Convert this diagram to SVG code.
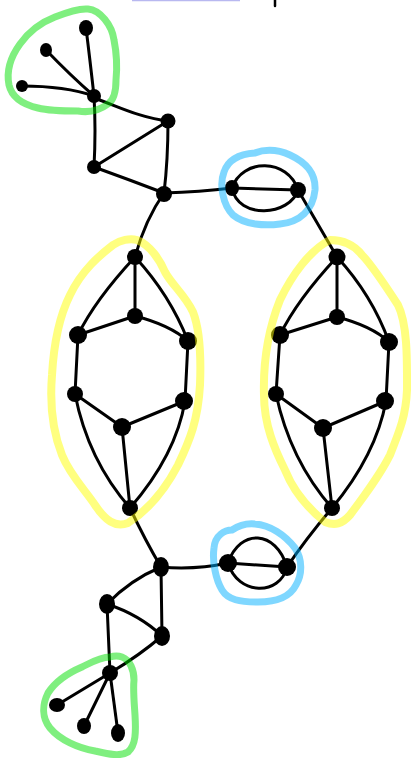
<svg xmlns="http://www.w3.org/2000/svg" width="411" height="758" viewBox="0 0 411 758">
<style>
.e{fill:none;stroke:#000;stroke-width:3;stroke-linecap:round;stroke-linejoin:round}
.n{fill:#000}
.o{fill:none;stroke-linecap:round;stroke-linejoin:round;opacity:0.5}
.g{stroke:#00e000;stroke-width:7}
.y{stroke:#ffff00;stroke-width:8}
.b{stroke:#00b0ff;stroke-width:7}
</style>
<rect width="411" height="758" fill="#fff"/>
<line x1="132" y1="0.5" x2="240" y2="0.5" stroke="#b8b8f0" stroke-width="1.5"/>
<line x1="275" y1="0" x2="275" y2="6" stroke="#000" stroke-width="2.5" stroke-linecap="round"/>
<g id="connectors">
<path class="e" d="M94,96 Q90,60 86,28"/>
<path class="e" d="M94,96 Q70,75 46,50"/>
<path class="e" d="M94,96 Q65,86 22,86"/>
<path class="e" d="M94,98 C115,105 140,118 168,121"/>
<path class="e" d="M94,96 Q96,130 94,167"/>
<path class="e" d="M94,167 L168,121"/>
<path class="e" d="M168,121 Q168,160 164,193"/>
<path class="e" d="M94,167 Q130,180 164,193"/>
<path class="e" d="M164,193 Q200,192 232,188"/>
<path class="e" d="M232,188 L298,190"/>
<path class="e" d="M232,188 C242,158 288,158 298,190"/>
<path class="e" d="M232,188 C238,220 290,216 298,190"/>
<path class="e" d="M298,190 L337,257"/>
<path class="e" d="M164,193 Q145,220 135,257"/>
<path class="e" d="M135,257 L135,316"/>
<path class="e" d="M135,257 Q95,300 78,335"/>
<path class="e" d="M135,257 Q170,295 188,341"/>
<path class="e" d="M135,316 L78,335"/>
<path class="e" d="M135,316 Q170,325 188,341"/>
<path class="e" d="M78,335 L75,394"/>
<path class="e" d="M188,341 L185,401"/>
<path class="e" d="M75,394 L122,427"/>
<path class="e" d="M185,401 L122,427"/>
<path class="e" d="M122,427 L130,508"/>
<path class="e" d="M75,394 Q88,460 130,508"/>
<path class="e" d="M185,401 Q176,455 130,508"/>
<path class="e" d="M130,508 Q145,540 161,567"/>
<path class="e" d="M337,257 L337,317"/>
<path class="e" d="M337,257 Q297,300 280,335"/>
<path class="e" d="M337,257 Q372,295 389,342"/>
<path class="e" d="M337,317 L280,335"/>
<path class="e" d="M337,317 Q372,326 389,342"/>
<path class="e" d="M280,335 L276,394"/>
<path class="e" d="M389,342 L386,401"/>
<path class="e" d="M276,394 L323,428"/>
<path class="e" d="M386,401 L323,428"/>
<path class="e" d="M323,428 L332,508"/>
<path class="e" d="M276,394 Q290,460 332,508"/>
<path class="e" d="M386,401 Q376,455 332,508"/>
<path class="e" d="M332,508 Q305,540 287,567"/>
<path class="e" d="M161,567 Q195,570 228,563"/>
<path class="e" d="M228,563 L287,567"/>
<path class="e" d="M228,563 C240,528 276,530 287,567"/>
<path class="e" d="M228,563 C238,596 280,596 287,567"/>
<path class="e" d="M161,567 Q130,580 107,604"/>
<path class="e" d="M161,567 L162,636"/>
<path class="e" d="M107,604 Q140,615 162,636"/>
<path class="e" d="M107,604 L110,673"/>
<path class="e" d="M162,636 Q140,655 110,673"/>
<path class="e" d="M110,673 L57,705"/>
<path class="e" d="M110,673 L84,726"/>
<path class="e" d="M110,673 L118,733"/>
</g>
<g id="nodes">
<g id="n-a"><ellipse class="n" cx="86" cy="28" rx="7" ry="8"/></g>
<g id="n-b"><ellipse class="n" cx="46" cy="50" rx="6" ry="7"/></g>
<g id="n-c"><circle class="n" cx="22" cy="86" r="6"/></g>
<g id="n-h1"><circle class="n" cx="94" cy="96" r="7"/></g>
<g id="n-t1"><circle class="n" cx="168" cy="121" r="7.5"/></g>
<g id="n-t2"><circle class="n" cx="94" cy="167" r="7"/></g>
<g id="n-j1"><circle class="n" cx="164" cy="194" r="8"/></g>
<g id="n-bl1"><ellipse class="n" cx="232" cy="188" rx="7" ry="8"/></g>
<g id="n-br1"><circle class="n" cx="298" cy="190" r="8"/></g>
<g id="n-l1"><circle class="n" cx="135" cy="257" r="8"/></g>
<g id="n-l2"><circle class="n" cx="135" cy="316" r="8"/></g>
<g id="n-l3"><circle class="n" cx="78" cy="335" r="9"/></g>
<g id="n-l4"><circle class="n" cx="188" cy="341" r="9"/></g>
<g id="n-l5"><circle class="n" cx="75" cy="394" r="8"/></g>
<g id="n-l6"><circle class="n" cx="184" cy="401" r="9"/></g>
<g id="n-l7"><circle class="n" cx="122" cy="427" r="9"/></g>
<g id="n-l8"><circle class="n" cx="130" cy="508" r="8"/></g>
<g id="n-r1"><circle class="n" cx="337" cy="257" r="8.5"/></g>
<g id="n-r2"><circle class="n" cx="337" cy="317" r="8"/></g>
<g id="n-r3"><circle class="n" cx="280" cy="335" r="9"/></g>
<g id="n-r4"><circle class="n" cx="389" cy="342" r="9"/></g>
<g id="n-r5"><circle class="n" cx="276" cy="394" r="8"/></g>
<g id="n-r6"><circle class="n" cx="385" cy="401" r="9"/></g>
<g id="n-r7"><circle class="n" cx="323" cy="428" r="9"/></g>
<g id="n-r8"><circle class="n" cx="332" cy="508" r="8"/></g>
<g id="n-bl2"><circle class="n" cx="228" cy="563" r="9"/></g>
<g id="n-br2"><circle class="n" cx="287" cy="567" r="9"/></g>
<g id="n-j2"><ellipse class="n" cx="161" cy="567" rx="8" ry="10"/></g>
<g id="n-b1"><ellipse class="n" cx="107" cy="604" rx="8" ry="10"/></g>
<g id="n-b2"><ellipse class="n" cx="162" cy="636" rx="8" ry="10"/></g>
<g id="n-h2"><circle class="n" cx="110" cy="673" r="8"/></g>
<g id="n-d"><ellipse class="n" cx="57" cy="705" rx="8" ry="7"/></g>
<g id="n-e"><ellipse class="n" cx="84" cy="726" rx="7" ry="8"/></g>
<g id="n-f"><ellipse class="n" cx="118" cy="733" rx="7" ry="9"/></g>
</g>
<g id="outlines">
<path class="o g" d="M88,9 C100,10 112,25 114,40 C117,55 117,70 116,80 C116,92 114,100 108,104 C100,110 90,113 78,111 C65,111 50,111 38,108 C25,105 12,98 9,85 C6,70 12,55 20,44 C30,30 42,22 55,17 C65,13 78,8 88,9 Z"/>
<path class="o b" d="M224,172 C228,160 240,154 255,153 C262,150 275,148 290,155 C305,162 316,172 315,190 C313,210 300,222 280,224 C265,226 245,225 233,215 C223,205 219,185 224,172 Z"/>
<path class="o y" d="M137,240 C150,245 160,260 165,272 C172,285 185,295 193,312 C200,330 201,360 200,385 C198,420 190,440 178,465 C165,490 148,510 128,523 C115,528 105,520 95,505 C85,490 70,475 62,455 C52,430 50,400 52,375 C54,340 60,315 70,295 C82,270 100,255 113,245 C120,240 130,238 137,240 Z"/>
<path class="o y" d="M330,240 C340,240 352,242 362,255 C372,265 385,285 398,305 C408,325 407,365 407,390 C406,415 400,430 390,455 C380,475 365,495 350,515 C342,524 335,526 325,522 C310,510 295,495 285,470 C275,450 264,425 264,395 C263,360 268,330 280,300 C292,275 310,250 330,240 Z"/>
<path class="o b" d="M214,548 C215,535 225,530 232,530 C238,526 245,523 255,524 C270,525 285,535 295,548 C303,560 302,575 296,585 C290,597 275,602 258,602 C240,602 228,600 222,590 C216,580 212,562 214,548 Z"/>
<path class="o g" d="M110,657 C100,657 90,663 82,667 C68,673 55,682 48,693 C42,705 42,718 50,728 C60,740 78,748 95,751 C108,754 120,757 128,752 C136,745 136,732 135,715 C134,700 133,690 134,680 C134,670 130,660 122,657 C117,655 113,656 110,657 Z"/>
</g>
</svg>
